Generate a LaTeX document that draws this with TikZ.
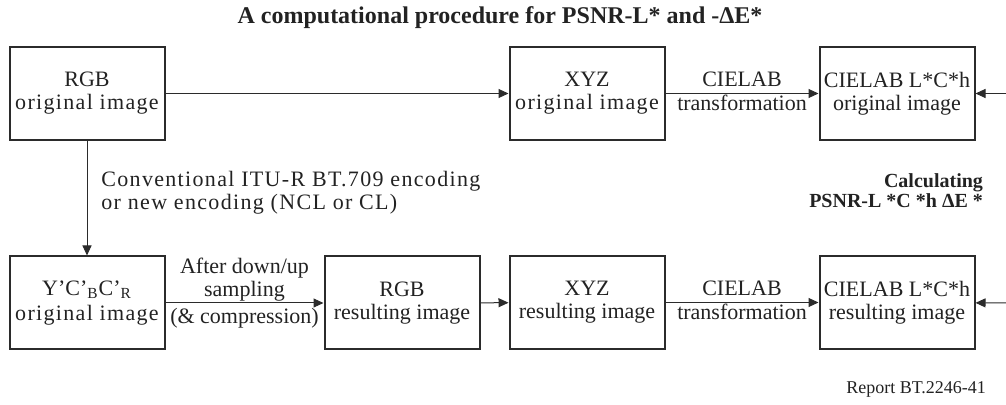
\documentclass[tikz,border=0pt]{standalone}
\usepackage{fontspec}
\setmainfont{Liberation Serif}
\newfontfamily\spacedfont[LetterSpace=6]{Liberation Serif}
\usetikzlibrary{positioning,arrows.meta}
\definecolor{lineclr}{HTML}{2B2B2B}
\definecolor{textclr}{HTML}{222222}
\newcommand\boxfont{\fontsize{11}{11.5}\selectfont}
\tikzset{
  box/.style  = {draw=lineclr, line width=1pt, minimum width=77.5pt,
                 minimum height=46.5pt, inner sep=0pt, align=center,
                 font=\boxfont, text=textclr},
  flow/.style = {-{Triangle[length=5pt,width=4.5pt]}, line width=0.5pt,
                 draw=lineclr},
  lbl/.style  = {font=\boxfont, text=textclr, inner sep=0.5pt, align=center},
}

\begin{document}
\begin{tikzpicture}[x=0.5pt,y=-0.5pt]
\useasboundingbox (0,0) rectangle (1006,405);

%% --- title -------------------------------------------------------------
\node[font=\bfseries\fontsize{12}{14}\selectfont, text=textclr] (title) at (500,18)
  {A computational procedure for PSNR-L* and -ΔE*};

%% =====================================================================
%% Original image path
%% =====================================================================
\node[box] (rgbo) at (87,93.5) {RGB\\\spacedfont original image};
\node[box] (xyzo) at (587,93.5) {XYZ\\\spacedfont original image};
\node[box, right=76.5pt of xyzo] (labo) {CIELAB L*C*h\\original image};

\draw[flow] (rgbo) -- (xyzo);
\draw[flow] (xyzo) -- node[lbl, above=2.5pt] (cieo) {CIELAB}
                      node[lbl, below] (trfo) {transformation} (labo);

%% =====================================================================
%% Resulting image path
%% =====================================================================
\node[box] (ycc) at (87,303) {Y’C’\textsubscript{B}C’\textsubscript{R}\\[1pt]\spacedfont original image};
\node[box, right=79pt of ycc] (rgbr) {RGB\\resulting image};
\node[box, below=57pt of xyzo] (xyzr) {XYZ\\resulting image};
\node[box, below=57pt of labo] (labr) {CIELAB L*C*h\\resulting image};

\draw[flow] (rgbo) -- (ycc);
\draw[flow] (ycc) -- node[lbl, above] (down) {After down/up\\sampling}
                     node[lbl, below=2pt] (comp) {(\& compression)} (rgbr);
\draw[flow] (rgbr) -- (xyzr);
\draw[flow] (xyzr) -- node[lbl, above=2.5pt] (cier) {CIELAB}
                      node[lbl, below] (trfr) {transformation} (labr);

%% --- encoding note -------------------------------------------------------
\node[lbl, anchor=west, align=left, font=\boxfont\spacedfont] (enc) at (100,193)
  {Conventional ITU-R BT.709 encoding\\or new encoding (NCL or CL)};

%% =====================================================================
%% PSNR calculation (enters from the right)
%% =====================================================================
\coordinate (intop) at (1006,93.5);
\coordinate (inbot) at (1006,303);
\draw[flow] (intop) -- (labo);
\draw[flow] (inbot) -- (labr);

\node[anchor=east, align=right, text=textclr,
      font=\bfseries\fontsize{10}{8.5}\selectfont] (calc) at (990,191)
  {Calculating\\PSNR-L *C *h ΔE *};

\node[anchor=east, text=textclr, font=\fontsize{9}{10}\selectfont] (report) at (993,389)
  {Report BT.2246-41};

\end{tikzpicture}
\end{document}
